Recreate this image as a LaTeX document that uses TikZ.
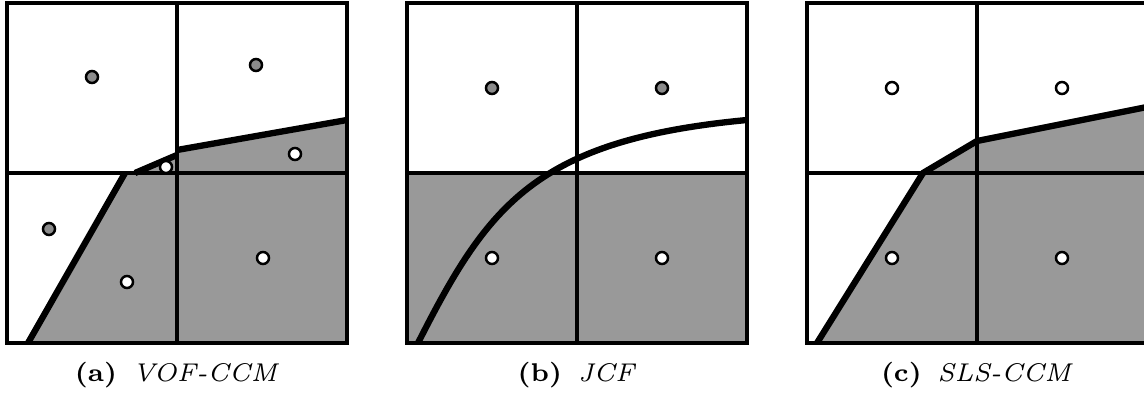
\documentclass[tikz,border=0pt]{standalone}
\usepackage{fontspec}
\usepackage{tikz}
\usetikzlibrary{positioning}

\begin{document}
\begin{tikzpicture}[x=0.01cm, y=-0.01cm,
  cell/.style={line width=0.9pt},
  liquid/.style={fill=black!40},
  iface/.style={line width=1.8pt},
  wet/.style={circle, draw, fill=white, line width=0.7pt, minimum size=0.12cm, inner sep=0pt},
  dry/.style={wet, fill=black!45},
  subcap/.style={anchor=base, font=\fontsize{7.3}{9}\selectfont}]
\useasboundingbox (0,0) rectangle (1144,394);

% (a) VOF-CCM
\begin{scope}
\begin{scope}
\clip (7,3) rectangle (347,343);
\fill[liquid] (28,343) -- (125,173) -- (135,173) -- (177,155) -- (177,150) -- (347,120) -- (347,343) -- cycle;
\end{scope}
\draw[cell] (7,3) rectangle (347,343) (177,3) -- (177,343) (7,173) -- (347,173);
\begin{scope}
\clip (7,3) rectangle (347,343);
\draw[iface] (28,343) -- (125,173);
\draw[iface] (135,173) -- (177,155);
\draw[iface] (177,150) -- (347,120);
\end{scope}
\node[dry] (a-ul) at (92,77) {};
\node[dry] (a-ur) at (256,65) {};
\node[wet] (a-ur2) at (295,154) {};
\node[wet] (a-ul2) at (166,167) {};
\node[dry] (a-ll) at (49,229) {};
\node[wet] (a-ll2) at (127,282) {};
\node[wet] (a-lr) at (263,258) {};
\node[subcap] (cap-a) at (177,381) {\textbf{(a)}\hspace{4.5pt}\textit{VOF-CCM}};
\end{scope}

% (b) JCF
\begin{scope}[shift={(400,0)}]
\fill[liquid] (7,173) rectangle (347,343);
\draw[cell] (7,3) rectangle (347,343) (177,3) -- (177,343) (7,173) -- (347,173);
\begin{scope}
\clip (7,3) rectangle (347,343);
\draw[iface] (18,343) .. controls (88,205) and (135,140) .. (347,120);
\end{scope}
\node[dry] (b-ul) at (92,88) {};
\node[dry] (b-ur) at (262,88) {};
\node[wet] (b-ll) at (92,258) {};
\node[wet] (b-lr) at (262,258) {};
\node[subcap] (cap-b) at (177,381) {\textbf{(b)}\hspace{4.5pt}\textit{JCF}};
\end{scope}

% (c) SLS-CCM
\begin{scope}[shift={(800,0)}]
\begin{scope}
\clip (7,3) rectangle (347,343);
\fill[liquid] (17,343) -- (123,173) -- (177,141) -- (347,107) -- (347,343) -- cycle;
\end{scope}
\draw[cell] (7,3) rectangle (347,343) (177,3) -- (177,343) (7,173) -- (347,173);
\begin{scope}
\clip (7,3) rectangle (347,343);
\draw[iface, line join=round] (17,343) -- (123,173) -- (177,141) -- (347,107);
\end{scope}
\node[wet] (c-ul) at (92,88) {};
\node[wet] (c-ur) at (262,88) {};
\node[wet] (c-ll) at (92,258) {};
\node[wet] (c-lr) at (262,258) {};
\node[subcap] (cap-c) at (177,381) {\textbf{(c)}\hspace{4.5pt}\textit{SLS-CCM}};
\end{scope}
\end{tikzpicture}
\end{document}
